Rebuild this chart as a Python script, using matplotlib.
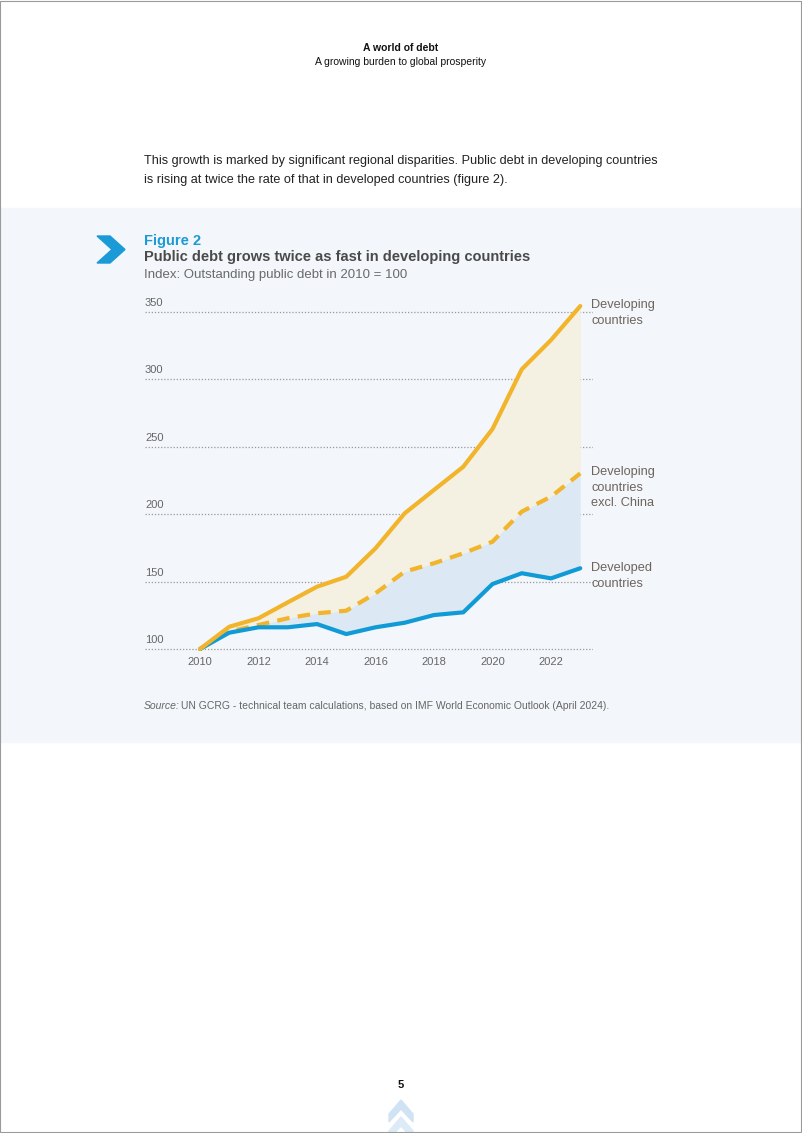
import matplotlib.pyplot as plt
import matplotlib.patches as mpatches
import numpy as np

# データ（2010年 = 100）
years = np.arange(2010, 2024)
developing = [100, 116.5, 122.8, 134.6, 146.2, 153.6, 174.7, 200.7, 218, 235.2, 263.2, 307.5, 329.2, 354.4]
excl_china = [100, 113, 117.8, 122.8, 126.5, 128.4, 141.3, 157.4, 163.6, 171, 179.6, 201.9, 213, 230.3]
developed = [100, 112.1, 116.1, 116.1, 118.5, 111.1, 116.1, 119.5, 125.2, 127.2, 148.2, 156.2, 152.4, 159.9]
yticks = [100, 150, 200, 250, 300, 350]
xticks = [2010, 2012, 2014, 2016, 2018, 2020, 2022]

yellow = '#f1b42a'
blue = '#119bd6'
label_c = '#6e645c'
narrow = ['Liberation Sans Narrow', 'Liberation Sans', 'DejaVu Sans']

W, H = 802, 1133
fig = plt.figure(figsize=(W / 100, H / 100), dpi=100)
fig.patch.set_facecolor('white')

def fx(px):
    return px / W

def fy(py):
    return 1 - py / H

# 背景パネルと枠
fig.patches.append(mpatches.Rectangle((0, fy(742)), 1, (742 - 208) / H,
                                      transform=fig.transFigure, color='#f3f6fa', zorder=-2))
fig.patches.append(mpatches.Rectangle((0.0006, 0.0006), 0.9985, 0.9988, transform=fig.transFigure,
                                      fill=False, ec='#9a9a9a', lw=0.8, zorder=5))

# ヘッダー
fig.text(0.5, fy(48), 'A world of debt', ha='center', va='center', fontsize=7.5,
         fontweight='bold', family='Liberation Sans', color='#111111')
fig.text(0.5, fy(62), 'A growing burden to global prosperity', ha='center', va='center',
         fontsize=7.5, family='Liberation Sans', color='#111111')

# 本文
fig.text(fx(144), fy(161), 'This growth is marked by significant regional disparities. Public debt in developing countries',
         ha='left', va='center', fontsize=9.1, family='Liberation Sans', color='#222222')
fig.text(fx(144), fy(180), 'is rising at twice the rate of that in developed countries (figure 2).',
         ha='left', va='center', fontsize=9.1, family='Liberation Sans', color='#222222')

# シェブロン
chev = np.array([[97, 236], [110, 236], [125, 249.5], [110, 263], [97, 263], [112, 249.5]])
fig.patches.append(mpatches.Polygon(np.c_[fx(chev[:, 0]), fy(chev[:, 1])], closed=True,
                                    transform=fig.transFigure, color='#1a9ad6', zorder=2))

# タイトル
fig.text(fx(144), fy(241), 'Figure 2', ha='left', va='center', fontsize=10.5,
         fontweight='bold', family='Liberation Sans', color='#1a9ad6')
fig.text(fx(144), fy(257), 'Public debt grows twice as fast in developing countries', ha='left',
         va='center', fontsize=10.5, fontweight='bold', family='Liberation Sans', color='#4a4a4a')
fig.text(fx(144), fy(275), 'Index: Outstanding public debt in 2010 = 100', ha='left', va='center',
         fontsize=9.5, family='Liberation Sans', color='#6a6a6a')

# グラフ
y0, y1 = 95, 355
ppu = (649 - 312) / 250
ax = fig.add_axes([fx(145), fy(649 + (100 - y0) * ppu), fx(593) - fx(145),
                   ((y1 - y0) * ppu) / H])
ax.set_xlim(2010 - 55 / 29.25, 2010 + 393 / 29.25)
ax.set_ylim(y0, y1)
ax.axis('off')

for v in yticks:
    ax.axhline(v, color='#9a9a9a', lw=0.9, ls=(0, (1, 1.5)), zorder=1)
    ax.text(ax.get_xlim()[0], v + 3, str(v), ha='left', va='bottom', fontsize=8,
            family=narrow, color='#666666')
for x in xticks:
    ax.text(x, 100 - 6, str(x), ha='center', va='top', fontsize=8, family=narrow, color='#666666')

ax.fill_between(years, developing, excl_china, color='#f4f0e2', lw=0, zorder=2)
ax.fill_between(years, excl_china, developed, color='#dce9f5', lw=0, zorder=2)

ax.plot(years, developed, color=blue, lw=3, solid_capstyle='round', zorder=4, clip_on=False)
ax.plot(years, excl_china, color=yellow, lw=3, ls=(0, (3, 2)), zorder=3, clip_on=False)
ax.plot(years, developing, color=yellow, lw=3, solid_capstyle='round', zorder=5, clip_on=False)

# 系列ラベル
fig.text(fx(591), fy(299), 'Developing\ncountries', ha='left', va='top', fontsize=9.2,
         family=narrow, color=label_c, linespacing=1.4)
fig.text(fx(591), fy(466), 'Developing\ncountries\nexcl. China', ha='left', va='top', fontsize=9.2,
         family=narrow, color=label_c, linespacing=1.4)
fig.text(fx(591), fy(562), 'Developed\ncountries', ha='left', va='top', fontsize=9.2,
         family=narrow, color=label_c, linespacing=1.4)

# 出典
fig.text(fx(144), fy(706), 'Source:', ha='left', va='center', fontsize=7.45, style='italic',
         family='Liberation Sans', color='#666666')
fig.text(fx(181), fy(706), 'UN GCRG - technical team calculations, based on IMF World Economic Outlook (April 2024).',
         ha='left', va='center', fontsize=7.45, family='Liberation Sans', color='#666666')

# ページ番号
fig.text(0.5, fy(1085), '5', ha='center', va='center', fontsize=8, fontweight='bold',
         family='Liberation Sans', color='#111111')
for top, c in [(1100, '#cfe3f4'), (1117, '#dcebf7')]:
    pts = np.array([[389, top + 14], [401, top], [413, top + 14], [413, top + 22],
                    [401, top + 9], [389, top + 22]])
    fig.patches.append(mpatches.Polygon(np.c_[fx(pts[:, 0]), fy(pts[:, 1])], closed=True,
                                        transform=fig.transFigure, color=c, zorder=2))

fig.savefig('out.png', dpi=100)
